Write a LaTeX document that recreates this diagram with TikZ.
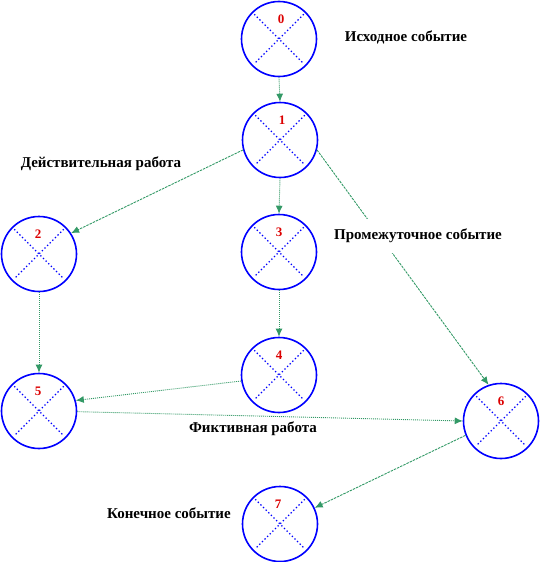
\documentclass[tikz,border=0pt]{standalone}
\usepackage{fontspec}
\setmainfont{Liberation Serif}
\usetikzlibrary{arrows.meta}
\definecolor{evblue}{RGB}{0,0,255}
\definecolor{arrgreen}{RGB}{51,153,102}
\definecolor{numred}{RGB}{220,0,0}
\begin{document}
\begin{tikzpicture}[x=1pt,y=-1pt,
  event/.style={circle,draw=evblue,line width=1.6pt,minimum size=75pt,inner sep=0pt,
    path picture={
      \draw[evblue,line width=1.3pt,dash pattern=on 1.3pt off 2.4pt]
        ([shift={(45:35pt)}]path picture bounding box.center) -- ([shift={(225:35pt)}]path picture bounding box.center);
      \draw[evblue,line width=1.3pt,dash pattern=on 1.3pt off 2.4pt]
        ([shift={(135:35pt)}]path picture bounding box.center) -- ([shift={(315:35pt)}]path picture bounding box.center);
    }},
  num/.style={text=numred,font=\bfseries\fontsize{13}{13}\selectfont,inner sep=0pt},
  lab/.style={font=\bfseries\fontsize{15}{17}\selectfont,inner sep=1pt},
  conn/.style={draw=arrgreen,line width=0.9pt,-{Latex[length=8pt,width=7pt]}},
  dotconn/.style={conn,dash pattern=on 1pt off 1pt},
  dashconn/.style={conn,dash pattern=on 2.5pt off 1pt}
]
\useasboundingbox (0,0) rectangle (539,562);

\node[event] (n0) at (279,39) {};
\node[event] (n1) at (280,140) {};
\node[event] (n2) at (39,254) {};
\node[event] (n3) at (279,252) {};
\node[event] (n4) at (279,375) {};
\node[event] (n5) at (39,411) {};
\node[event] (n6) at (501,421) {};
\node[event] (n7) at (280,524) {};

\node[num] (l0) at ([shift={(2,-20)}]n0.center) {0};
\node[num] (l1) at ([shift={(2,-20)}]n1.center) {1};
\node[num] (l2) at ([shift={(-1,-20)}]n2.center) {2};
\node[num] (l3) at ([shift={(0,-20)}]n3.center) {3};
\node[num] (l4) at ([shift={(0,-20)}]n4.center) {4};
\node[num] (l5) at ([shift={(-1,-20)}]n5.center) {5};
\node[num] (l6) at ([shift={(0,-20)}]n6.center) {6};
\node[num] (l7) at ([shift={(-2,-20)}]n7.center) {7};

\draw[dotconn] (n0.south) -- (n1.north);
\draw[dashconn] (n1.195) -- (n2.33);
\draw[dotconn] (n1.south) -- (n3.north);
\draw[dashconn] (n1.-15) -- (n6.109);
\draw[dotconn] (n2.south) -- (n5.north);
\draw[dotconn] (n3.south) -- (n4.north);
\draw[dotconn] (n4.189) -- (n5.16);
\draw[dotconn] (n5.-1) -- (n6.180);
\draw[dashconn] (n6.202) -- (n7.25);

\node[lab] (t0) at (406,37) {Исходное событие};
\node[lab] (t1) at (101,164) {Действительная работа};
\node[lab,fill=white,inner ysep=10pt] (t2) at (418,236) {Промежуточное событие};
\node[lab] (t3) at (253,429) {Фиктивная работа};
\node[lab] (t4) at (169,513) {Конечное событие};
\end{tikzpicture}
\end{document}
